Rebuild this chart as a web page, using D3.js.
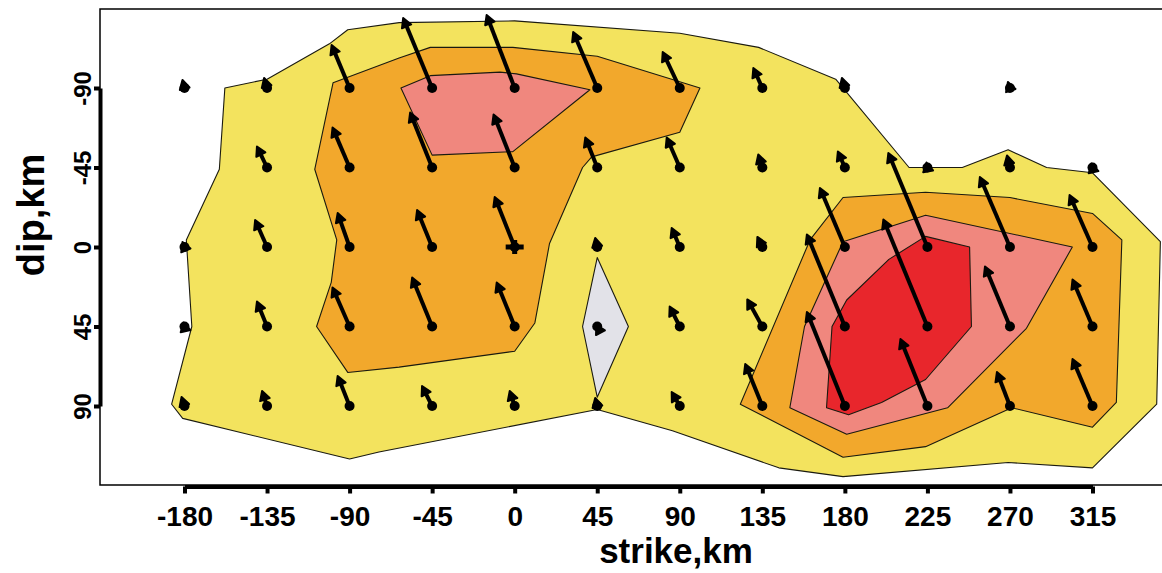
<!DOCTYPE html>
<html>
<head>
<meta charset="utf-8">
<script src="https://cdn.jsdelivr.net/npm/d3@7"></script>
<style>
  body { margin: 0; background: #fff; }
  svg { display: block; }
  text { font-family: "Liberation Sans", Arial, Helvetica, sans-serif; font-weight: bold; fill: #000; }
</style>
</head>
<body>
<svg id="chart" width="1162" height="573"></svg>
<script>
// ---- grid of subfaults ----
const strikeTicks = [-180, -135, -90, -45, 0, 45, 90, 135, 180, 225, 270, 315];
const dipTicks = [-90, -45, 0, 45, 90];

// slip vectors drawn at each subfault (strike and dip components, km of plot space);
// one row per dip level, null where there is no subfault
const slipStrike = [
  [-1.1, -1.6, -9.8, -15.8, -15.3, -13.1, -9.3, -4.9, -1.6, null, -1.1, null],
  [null, -5.5, -9.3, -12.0, -11.5, -6.5, -7.1, -2.2, -3.8, -0.5, -1.6, -0.5],
  [-1.1, -6.5, -6.5, -8.2, -10.9, -1.1, -4.4, -2.7, -13.6, -21.3, -16.4, -12.5],
  [-0.5, -5.5, -9.3, -10.9, -9.8, -0.5, -5.5, -8.2, -20.7, -24.0, -13.6, -10.9],
  [-1.6, -2.7, -6.5, -5.5, -2.7, -1.1, -4.4, -9.3, -20.7, -14.7, -7.1, -10.9]
];
const slipDip = [
  [-4.5, -5.7, -24.3, -39.6, -41.3, -31.7, -20.4, -11.3, -5.7, null, -3.4, null],
  [null, -11.9, -22.6, -31.1, -30.0, -17.0, -17.0, -7.4, -9.1, -2.8, -6.8, -2.3],
  [-2.8, -15.3, -19.2, -20.9, -28.3, -5.1, -10.8, -5.7, -33.4, -53.2, -39.6, -29.4],
  [-2.3, -14.1, -22.1, -27.7, -24.9, -1.0, -11.3, -15.3, -52.1, -60.6, -34.0, -26.6],
  [-5.1, -8.5, -17.0, -11.3, -8.5, -4.5, -7.9, -23.8, -53.2, -37.9, -19.2, -26.6]
];

// hypocentre (strike, dip)
const hypocentre = [0, 0];

// slip contour bands, vertices as [strike, dip] in km
const bandLow = [[-158,-90],[-135,-95],[-101,-115],[-91,-123],[-63,-127],[0,-128],[90,-121],[133,-113],
  [175,-95],[215,-45],[244,-45],[269,-55],[290,-45],[315,-42],[352,-3],[350,89],[315,125],[269,122],
  [179,130],[144,125],[86,104],[45,92],[-74,116],[-90,120],[-181,97],[-187,89],[-176,45],[-179,-4],[-161,-44]];
const bandMidWest = [[-99,-93],[-63,-107],[-46,-113],[-1,-113],[45,-108],[101,-90],[90,-65],[42,-51],
  [37,-45],[19,-2],[11,43],[0,59],[-63,68],[-91,71],[-108,45],[-100,20],[-97,-4],[-109,-44]];
const bandHighWest = [[-62,-90],[-46,-97],[-8,-99],[1,-98],[41,-89],[-1,-54],[-45,-52]];
const bandMidEast = [[179,-28],[224,-31],[270,-28],[315,-19],[331,-4],[328,88],[315,102],[271,91],
  [224,113],[179,119],[123,89],[161,-4]];
const bandHighEast = [[179,-3],[224,-18],[304,0],[279,46],[236,91],[181,106],[150,91],[158,45]];
const bandPeakEast = [[224,-6],[248,0],[249,45],[224,75],[200,88],[182,95],[170,91],[173,45],[181,30],[204,7]];
const bandZero = [[45,6],[62,45],[45,85],[37,45]];

const bandColours = ["#f3e35e", "#f2a82c", "#f0877e", "#e8262c", "#e2e2e8"];

// ---- layout ----
const svg = d3.select("#chart");
const frame = { left: 100, top: 9, right: 1180, bottom: 485 };
const x = d3.scaleLinear().domain([-180, 315]).range([184.5, 1092.5]);
const y = d3.scaleLinear().domain([-90, 90]).range([88, 406]);

const line = d3.line().x(d => x(d[0])).y(d => y(d[1])).curve(d3.curveLinearClosed);

const bands = [
  [bandLow, bandColours[0]],
  [bandMidWest, bandColours[1]],
  [bandHighWest, bandColours[2]],
  [bandMidEast, bandColours[1]],
  [bandHighEast, bandColours[2]],
  [bandPeakEast, bandColours[3]],
  [bandZero, bandColours[4]]
];

const gBands = svg.append("g");
bands.forEach(([pts, col]) => {
  gBands.append("path")
    .attr("d", line(pts))
    .attr("fill", col)
    .attr("stroke", "#1a1a10")
    .attr("stroke-width", 1.1)
    .attr("stroke-linejoin", "round");
});

// ---- slip arrows ----
const arrows = [];
dipTicks.forEach((dp, r) => {
  strikeTicks.forEach((st, c) => {
    const ds = slipStrike[r][c], dd = slipDip[r][c];
    if (ds === null || dd === null) return;
    arrows.push({ st, dp, ds, dd });
  });
});

const gArr = svg.append("g");
arrows.forEach(a => {
  const x0 = x(a.st), y0 = y(a.dp);
  const x1 = x(a.st + a.ds), y1 = y(a.dp + a.dd);
  const len = Math.hypot(x1 - x0, y1 - y0);
  const ux = (x1 - x0) / (len || 1), uy = (y1 - y0) / (len || 1);
  const headLen = 9, headW = 5;
  const bx = x1 - ux * headLen, by = y1 - uy * headLen;
  if (len > headLen) {
    gArr.append("line")
      .attr("x1", x0).attr("y1", y0).attr("x2", bx).attr("y2", by)
      .attr("stroke", "#000").attr("stroke-width", 4);
  }
  gArr.append("path")
    .attr("d", `M${x1},${y1}L${bx - uy * headW},${by + ux * headW}L${bx + uy * headW},${by - ux * headW}Z`)
    .attr("fill", "#000").attr("stroke", "#000").attr("stroke-width", 2).attr("stroke-linejoin", "round");
  gArr.append("circle").attr("cx", x0).attr("cy", y0).attr("r", 5).attr("fill", "#000");
});

// hypocentre cross
gArr.append("path")
  .attr("d", `M${x(hypocentre[0]) - 9},${y(hypocentre[1])}h18M${x(hypocentre[0])},${y(hypocentre[1]) - 7}v14`)
  .attr("stroke", "#000").attr("stroke-width", 5);

// ---- frame and axes ----
svg.append("path")
  .attr("d", `M${frame.right},${frame.top}H${frame.left}V${frame.bottom}H${frame.right}`)
  .attr("fill", "none").attr("stroke", "#000").attr("stroke-width", 1.5);

const plainLabel = d => String(d);

const xAxis = svg.append("g").attr("transform", `translate(0,${frame.bottom + 1.5})`)
  .call(d3.axisBottom(x).tickValues(strikeTicks).tickFormat(plainLabel)
    .tickSize(7).tickSizeOuter(0).tickPadding(6));
xAxis.select(".domain").attr("stroke-width", 4);
xAxis.selectAll(".tick line").attr("stroke-width", 4);
xAxis.selectAll(".tick text").attr("font-size", 28).attr("font-family", null).attr("dy", "0.95em");

const yAxis = svg.append("g").attr("transform", `translate(${frame.left},0)`)
  .call(d3.axisLeft(y).tickValues(dipTicks).tickFormat(plainLabel)
    .tickSize(6).tickSizeOuter(0).tickPadding(0));
yAxis.select(".domain").attr("stroke-width", 4);
yAxis.selectAll(".tick line").attr("stroke-width", 4);
yAxis.selectAll(".tick text")
  .attr("font-size", 24).attr("font-family", null)
  .attr("x", null).attr("dy", null)
  .attr("text-anchor", "middle")
  .attr("transform", "translate(-9,0) rotate(-90)");

svg.append("text").attr("x", 676).attr("y", 563)
  .attr("text-anchor", "middle").attr("font-size", 35).text("strike,km");

svg.append("text").attr("transform", "translate(44,215) rotate(-90)")
  .attr("text-anchor", "middle").attr("font-size", 38).text("dip,km");
</script>
</body>
</html>
